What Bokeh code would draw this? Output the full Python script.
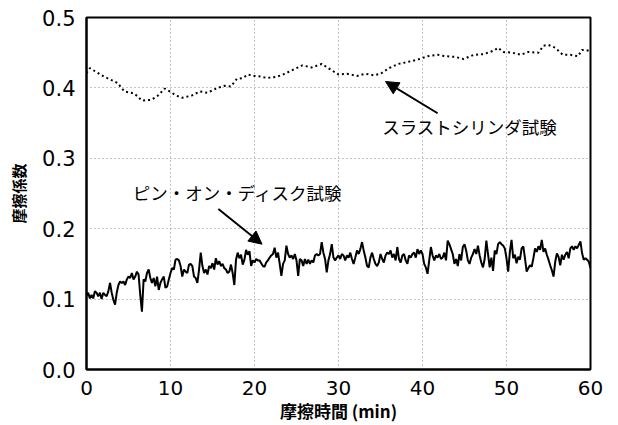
from bokeh.plotting import figure
from bokeh.models import Arrow, NormalHead, Label, FixedTicker
from bokeh.embed import file_html
from bokeh.resources import INLINE

# ---- data ----
x_ticks = [0, 10, 20, 30, 40, 50, 60]
y_ticks = [0.0, 0.1, 0.2, 0.3, 0.4, 0.5]
y_tick_labels = ["0.0", "0.1", "0.2", "0.3", "0.4", "0.5"]

# スラストシリンダ試験 (dotted curve)
thrust_time = [0.0, 0.4, 2.1, 3.7, 4.5, 5.7, 6.6, 7.7, 8.5, 9.3, 9.9, 10.7, 11.4, 12.5,
               13.5, 14.4, 15.6, 16.4, 17.2, 17.9, 18.6, 19.2, 20.0, 20.8, 21.5, 22.7,
               23.6, 24.8, 25.7, 26.8, 28.0, 29.2, 30.0, 31.0, 32.2, 33.2, 34.2, 35.0,
               36.0, 37.1, 38.3, 39.4, 40.6, 41.8, 42.7, 43.9, 44.9, 46.1, 47.3, 48.5,
               49.0, 49.6, 50.7, 51.7, 52.6, 53.8, 54.4, 55.0, 55.8, 56.7, 57.6, 58.5,
               59.0, 59.4, 60.0]
thrust_cof = [0.421, 0.428, 0.416, 0.407, 0.395, 0.392, 0.382, 0.383, 0.389, 0.399, 0.395,
              0.389, 0.386, 0.389, 0.395, 0.393, 0.400, 0.403, 0.402, 0.413, 0.414, 0.419,
              0.417, 0.416, 0.414, 0.416, 0.420, 0.427, 0.432, 0.429, 0.434, 0.425, 0.419,
              0.420, 0.417, 0.420, 0.418, 0.420, 0.428, 0.434, 0.437, 0.440, 0.445, 0.447,
              0.445, 0.444, 0.441, 0.447, 0.448, 0.453, 0.457, 0.451, 0.450, 0.447, 0.451,
              0.450, 0.460, 0.461, 0.457, 0.447, 0.447, 0.445, 0.454, 0.454, 0.452]

# ピン・オン・ディスク試験 (solid noisy curve)
pin_time = [
    0.0, 0.2, 0.4, 0.6, 0.8, 1.0, 1.2, 1.4, 1.6, 1.8,
    2.0, 2.2, 2.4, 2.6, 2.8, 3.0, 3.2, 3.4, 3.6, 3.8,
    4.0, 4.2, 4.4, 4.6, 4.8, 5.0, 5.2, 5.4, 5.6, 5.8,
    6.0, 6.2, 6.4, 6.6, 6.8, 7.0, 7.2, 7.4, 7.6, 7.8,
    8.0, 8.2, 8.4, 8.6, 8.8, 9.0, 9.2, 9.4, 9.6, 9.8,
    10.0, 10.2, 10.4, 10.6, 10.8, 11.0, 11.2, 11.4, 11.6, 11.8,
    12.0, 12.2, 12.4, 12.6, 12.8, 13.0, 13.2, 13.4, 13.6, 13.8,
    14.0, 14.2, 14.4, 14.6, 14.8, 15.0, 15.2, 15.4, 15.6, 15.8,
    16.0, 16.2, 16.4, 16.6, 16.8, 17.0, 17.2, 17.4, 17.6, 17.8,
    18.0, 18.2, 18.4, 18.6, 18.8, 19.0, 19.2, 19.4, 19.6, 19.8,
    20.0, 20.2, 20.4, 20.6, 20.8, 21.0, 21.2, 21.4, 21.6, 21.8,
    22.0, 22.2, 22.4, 22.6, 22.8, 23.0, 23.2, 23.4, 23.6, 23.8,
    24.0, 24.2, 24.4, 24.6, 24.8, 25.0, 25.2, 25.4, 25.6, 25.8,
    26.0, 26.2, 26.4, 26.6, 26.8, 27.0, 27.2, 27.4, 27.6, 27.8,
    28.0, 28.2, 28.4, 28.6, 28.8, 29.0, 29.2, 29.4, 29.6, 29.8,
    30.0, 30.2, 30.4, 30.6, 30.8, 31.0, 31.2, 31.4, 31.6, 31.8,
    32.0, 32.2, 32.4, 32.6, 32.8, 33.0, 33.2, 33.4, 33.6, 33.8,
    34.0, 34.2, 34.4, 34.6, 34.8, 35.0, 35.2, 35.4, 35.6, 35.8,
    36.0, 36.2, 36.4, 36.6, 36.8, 37.0, 37.2, 37.4, 37.6, 37.8,
    38.0, 38.2, 38.4, 38.6, 38.8, 39.0, 39.2, 39.4, 39.6, 39.8,
    40.0, 40.2, 40.4, 40.6, 40.8, 41.0, 41.2, 41.4, 41.6, 41.8,
    42.0, 42.2, 42.4, 42.6, 42.8, 43.0, 43.2, 43.4, 43.6, 43.8,
    44.0, 44.2, 44.4, 44.6, 44.8, 45.0, 45.2, 45.4, 45.6, 45.8,
    46.0, 46.2, 46.4, 46.6, 46.8, 47.0, 47.2, 47.4, 47.6, 47.8,
    48.0, 48.2, 48.4, 48.6, 48.8, 49.0, 49.2, 49.4, 49.6, 49.8,
    50.0, 50.2, 50.4, 50.6, 50.8, 51.0, 51.2, 51.4, 51.6, 51.8,
    52.0, 52.2, 52.4, 52.6, 52.8, 53.0, 53.2, 53.4, 53.6, 53.8,
    54.0, 54.2, 54.4, 54.6, 54.8, 55.0, 55.2, 55.4, 55.6, 55.8,
    56.0, 56.2, 56.4, 56.6, 56.8, 57.0, 57.2, 57.4, 57.6, 57.8,
    58.0, 58.2, 58.4, 58.6, 58.8, 59.0, 59.2, 59.4, 59.6, 59.8,
    60.0]
pin_cof = [
    0.105, 0.109, 0.101, 0.106, 0.101, 0.111, 0.109, 0.104, 0.109, 0.100,
    0.109, 0.106, 0.104, 0.111, 0.123, 0.109, 0.099, 0.092, 0.109, 0.120,
    0.125, 0.123, 0.125, 0.120, 0.128, 0.132, 0.130, 0.137, 0.128, 0.132,
    0.139, 0.135, 0.106, 0.082, 0.128, 0.125, 0.137, 0.142, 0.130, 0.123,
    0.130, 0.118, 0.132, 0.113, 0.123, 0.128, 0.132, 0.116, 0.118,
    0.128, 0.137, 0.144, 0.142, 0.156, 0.157, 0.155, 0.147, 0.132, 0.142,
    0.139, 0.137, 0.149, 0.150, 0.147, 0.132, 0.130, 0.123, 0.142, 0.166,
    0.147, 0.137, 0.142, 0.135, 0.147, 0.144, 0.151, 0.142, 0.158, 0.149,
    0.154, 0.147, 0.150, 0.144, 0.142, 0.137, 0.139, 0.149, 0.137, 0.120,
    0.156, 0.166, 0.158, 0.163, 0.149, 0.156, 0.170, 0.163, 0.168, 0.147,
    0.155, 0.152, 0.157, 0.155, 0.155, 0.151, 0.147, 0.146, 0.152, 0.155,
    0.159, 0.162, 0.164, 0.173, 0.159, 0.166, 0.150, 0.133, 0.150, 0.155,
    0.176, 0.164, 0.159, 0.162, 0.157, 0.164, 0.155, 0.133, 0.157, 0.155,
    0.147, 0.157, 0.150, 0.156, 0.150, 0.155, 0.152, 0.162, 0.164, 0.162,
    0.164, 0.181, 0.166, 0.157, 0.138, 0.155, 0.164, 0.178, 0.159, 0.155,
    0.159, 0.162, 0.157, 0.164, 0.162, 0.155, 0.162, 0.159, 0.166, 0.157,
    0.150, 0.159, 0.169, 0.164, 0.171, 0.181, 0.169, 0.159, 0.147, 0.145,
    0.159, 0.166, 0.157, 0.150, 0.147, 0.152, 0.164, 0.157, 0.152, 0.162,
    0.166, 0.164, 0.169, 0.159, 0.164, 0.155, 0.174, 0.157, 0.152, 0.162,
    0.164, 0.155, 0.150, 0.162, 0.159, 0.164, 0.166, 0.159, 0.171, 0.164,
    0.169, 0.164, 0.150, 0.145, 0.136, 0.155, 0.174, 0.162, 0.155, 0.162,
    0.159, 0.164, 0.157, 0.159, 0.166, 0.155, 0.183, 0.178, 0.171, 0.164,
    0.150, 0.157, 0.147, 0.164, 0.155, 0.174, 0.178, 0.169, 0.155, 0.150,
    0.159, 0.164, 0.171, 0.164, 0.176, 0.162, 0.152, 0.145, 0.157, 0.183,
    0.164, 0.145, 0.159, 0.140, 0.169, 0.164, 0.178, 0.181, 0.178, 0.176,
    0.172, 0.158, 0.139, 0.167, 0.184, 0.158, 0.163, 0.151, 0.160, 0.156,
    0.172, 0.175, 0.158, 0.139, 0.144, 0.148, 0.146, 0.158, 0.172, 0.167,
    0.175, 0.170, 0.184, 0.167, 0.172, 0.163, 0.156, 0.148, 0.141, 0.132,
    0.153, 0.165, 0.160, 0.148, 0.163, 0.156, 0.163, 0.167, 0.158, 0.172,
    0.175, 0.170, 0.175, 0.172, 0.177, 0.182, 0.165, 0.156, 0.158, 0.156,
    0.153, 0.144]

label_thrust = "スラストシリンダ試験"
label_pin = "ピン・オン・ディスク試験"
x_title = "摩擦時間 (min)"
y_title = "摩擦係数"

JP = "Noto Sans CJK JP"
NUM = "DejaVu Sans"

p = figure(width=618, height=425, output_backend="svg", toolbar_location=None,
           x_range=(0, 60), y_range=(0, 0.5),
           min_border_left=86, min_border_right=28, min_border_top=17, min_border_bottom=55)
p.background_fill_color = "white"
p.border_fill_color = "white"
p.outline_line_color = "black"
p.outline_line_width = 2

# grid
for g in (p.xgrid, p.ygrid):
    g.grid_line_color = "#8a8a8a"
    g.grid_line_dash = "1 3"
    g.grid_line_width = 1
p.xgrid.ticker = FixedTicker(ticks=x_ticks)
p.ygrid.ticker = FixedTicker(ticks=y_ticks)

# axes
p.xaxis.ticker = FixedTicker(ticks=x_ticks)
p.yaxis.ticker = FixedTicker(ticks=y_ticks)
p.yaxis.major_label_overrides = {t: s for t, s in zip(y_ticks, y_tick_labels)}
for ax in (p.xaxis, p.yaxis):
    ax.axis_line_color = "black"
    ax.axis_line_width = 2
    ax.major_tick_line_color = None
    ax.minor_tick_line_color = None
    ax.major_tick_out = 0
    ax.major_tick_in = 0
    ax.major_label_text_font = NUM
    ax.major_label_text_font_size = "20px"
    ax.major_label_text_color = "black"
    ax.axis_label_text_font = JP
    ax.axis_label_text_font_style = "bold"
    ax.axis_label_text_color = "black"
p.yaxis.major_label_text_font_size = "21px"
p.xaxis.major_label_standoff = 11
p.yaxis.major_label_standoff = 11
p.xaxis.axis_label = x_title
p.xaxis.axis_label_text_font_size = "17px"
p.xaxis.axis_label_standoff = 0
p.yaxis.axis_label = y_title
p.yaxis.axis_label_text_font_size = "15px"
p.yaxis.axis_label_standoff = 10

# data
p.line(thrust_time, thrust_cof, line_color="black", line_width=2, line_dash="2 3")
p.line(pin_time, pin_cof, line_color="black", line_width=2)

# annotations
p.add_layout(Label(x=35.2, y=0.345, text=label_thrust, text_font=JP, text_font_size="17.5px",
                   text_color="black", text_baseline="middle"))
p.add_layout(Label(x=5.5, y=0.251, text=label_pin, text_font=JP, text_font_size="17.5px",
                   text_color="black", text_baseline="middle"))
p.add_layout(Arrow(end=NormalHead(size=13, fill_color="black", line_color="black"),
                   x_start=41.8, y_start=0.364, x_end=35.6, y_end=0.409,
                   line_color="black", line_width=2))
p.add_layout(Arrow(end=NormalHead(size=13, fill_color="black", line_color="black"),
                   x_start=15.7, y_start=0.228, x_end=20.9, y_end=0.178,
                   line_color="black", line_width=2))

open("out.html", "w").write(file_html(p, INLINE))
